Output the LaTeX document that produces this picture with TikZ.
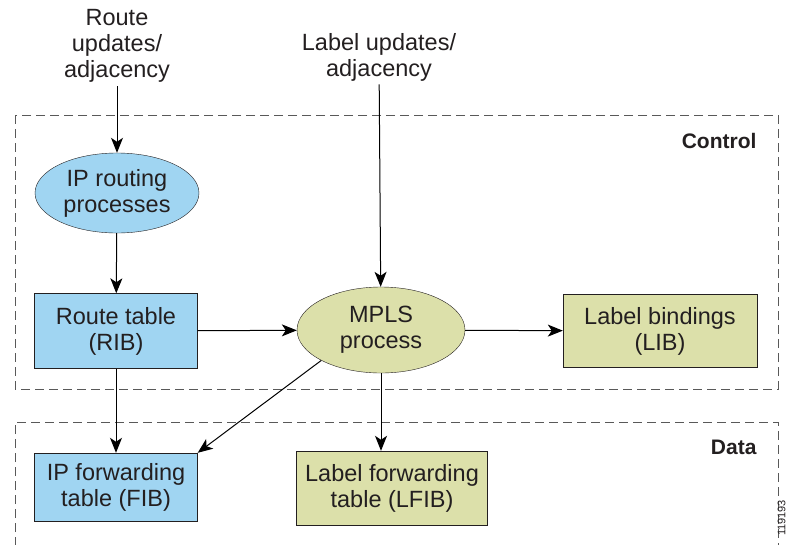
\documentclass[tikz,border=0pt]{standalone}
\usepackage{fontspec}
\setmainfont{Liberation Sans}
\usetikzlibrary{shapes.geometric,arrows.meta}
\definecolor{ipblue}{RGB}{160,213,242}
\definecolor{mplsgreen}{RGB}{220,224,170}
\definecolor{inkgray}{RGB}{35,31,32}
\tikzset{
  txt/.style={align=center,text=inkgray,font=\fontsize{23.5}{26}\selectfont},
  bluebox/.style={txt,draw=inkgray,fill=ipblue,minimum width=163pt,minimum height=75pt,inner sep=0pt},
  greenbox/.style={txt,draw=inkgray,fill=mplsgreen,inner sep=0pt},
  oval/.style={txt,ellipse,draw=inkgray,inner sep=0pt},
  plane/.style={draw=black!65,line width=1pt,dash pattern=on 9pt off 5pt},
  arr/.style={-{Stealth[length=15pt,width=12pt,inset=4pt]},line width=1pt,draw=black}
}
\begin{document}
\begin{tikzpicture}[x=1pt,y=-1pt]
            \useasboundingbox (0,0) rectangle (790,544);
            % planes
            \draw[plane] (15,115) rectangle (778,389);
            \draw[plane] (15,560) -- (15,422) -- (778,422) -- (778,560);
            \node[txt,font=\fontsize{21}{24}\selectfont\bfseries,anchor=east] (control) at (760,141) {Control};
            \node[txt,font=\fontsize{21}{24}\selectfont\bfseries,anchor=east] (data) at (760,447) {Data};
            % inputs
            \node[txt] (routeupd) at (117,46) {Route\\updates/\\adjacency};
            \node[txt] (labelupd) at (379,57) {Label updates/\\adjacency};
            % control plane
            \node[oval,fill=ipblue,minimum width=164pt,minimum height=80pt] (iproute) at (117,193) {IP routing\\processes};
            \node[bluebox] (rib) at (116,331) {Route table\\(RIB)};
            \node[oval,fill=mplsgreen,minimum width=168pt,minimum height=86pt] (mpls) at (381,330) {MPLS\\process};
            \node[greenbox,minimum width=194pt,minimum height=73pt] (lib) at (660,331) {Label bindings\\(LIB)};
            % data plane
            \node[bluebox,minimum height=68pt] (fib) at (116,487) {IP forwarding\\table (FIB)};
            \node[greenbox,minimum width=191pt,minimum height=74pt] (lfib) at (392,488) {Label forwarding\\table (LFIB)};
            \node[txt,font=\fontsize{11}{13}\selectfont,rotate=90,anchor=south] (figid) at (789,518) {119193};
            % connectors
            \draw[arr] (routeupd) -- (iproute);
            \draw[arr] (iproute) -- (rib);
            \draw[arr] (labelupd) -- (mpls);
            \draw[arr] (rib) -- (mpls);
            \draw[arr] (mpls) -- (lib);
            \draw[arr] (rib) -- (fib);
            \draw[arr] (mpls.207) -- (fib.north east);
            \draw[arr] (mpls.south) -- (mpls.south |- lfib.north);
\end{tikzpicture}
\end{document}
